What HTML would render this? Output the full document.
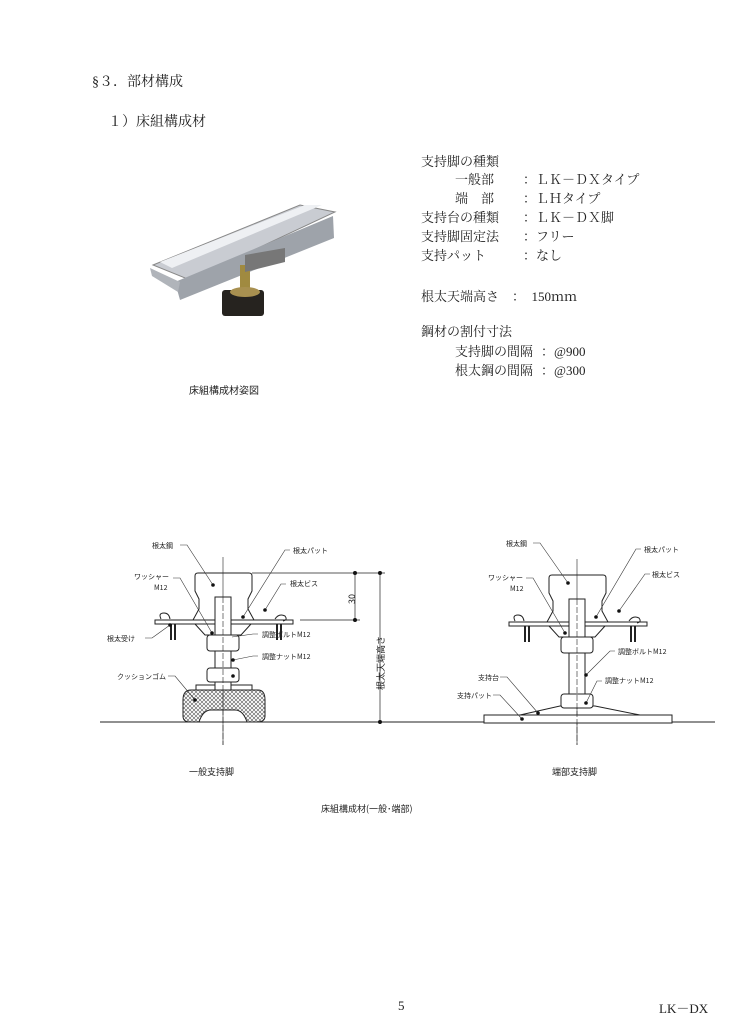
<!DOCTYPE html>
<html><head><meta charset="utf-8"><style>
body{margin:0;background:#fff;}
.p{position:relative;width:738px;height:1024px;font-family:"Liberation Serif","Noto Serif CJK SC","Noto Sans CJK JP",serif;color:#222;}
.t{position:absolute;white-space:nowrap;font-size:13px;}
svg{position:absolute;left:0;top:0;}
</style></head><body><div class="p">
<div class="t" style="left:92px;top:71px;font-size:14px">§３．部材構成</div>
<div class="t" style="left:108px;top:111px;font-size:14px">１）床組構成材</div>

<div class="t" style="left:421px;top:151px">支持脚の種類</div>
<div class="t" style="left:455px;top:169px">一般部</div><div class="t" style="left:523px;top:169px">：ＬＫ－ＤＸタイプ</div>
<div class="t" style="left:455px;top:188px">端　部</div><div class="t" style="left:523px;top:188px">：ＬＨタイプ</div>
<div class="t" style="left:421px;top:207px">支持台の種類</div><div class="t" style="left:523px;top:207px">：ＬＫ－ＤＸ脚</div>
<div class="t" style="left:421px;top:226px">支持脚固定法</div><div class="t" style="left:523px;top:226px">：フリー</div>
<div class="t" style="left:421px;top:245px">支持パット</div><div class="t" style="left:523px;top:245px">：なし</div>
<div class="t" style="left:421px;top:286px">根太天端高さ　：　150ｍｍ</div>
<div class="t" style="left:421px;top:321px">鋼材の割付寸法</div>
<div class="t" style="left:455px;top:341px">支持脚の間隔</div><div class="t" style="left:541px;top:341px">：@900</div>
<div class="t" style="left:455px;top:360px">根太鋼の間隔</div><div class="t" style="left:541px;top:360px">：@300</div>
<div class="t" style="left:189px;top:382px;font-size:10px;font-family:'Noto Sans CJK JP',sans-serif">床組構成材姿図</div>

<svg width="738" height="1024" viewBox="0 0 738 1024">
<defs>
<pattern id="x" width="4" height="4" patternUnits="userSpaceOnUse"><path d="M0 0L4 4M4 0L0 4" stroke="#555" stroke-width="0.6"/></pattern>
<g id="leg" fill="none" stroke="#222" stroke-width="1">
<path d="M-30,47 L-24,36 -24,26 -28,18 -28,3 Q-28,0 -25,0 L26,0 Q29,0 29,3 L29,18 25,26 25,36 31,47"/>
<rect x="-68" y="47" width="138" height="4" fill="#fff"/>
<path d="M-62,46 q-3,-6 3,-6 q5,0 6,6 M52,46 q4,-6 10,-3 q3,4 -2,5"/>
<path d="M-52,51 v16 M-48,51 v16 M54,51 v16 M58,51 v16" stroke-width="2"/>
<path d="M-28,51 L-18,62 18,62 28,51"/>
</g>
<g id="nuts" fill="#fff" stroke="#222">
<rect x="-16" y="62" width="32" height="16" rx="3"/>
</g>
</defs>
<!-- photo -->
<polygon points="153,265 300,205 335,212 190,280" fill="#c9ccd2" stroke="#888"/>
<polygon points="160,262 305,205 322,205 172,268" fill="#eef0f3"/>
<polygon points="175,282 333,216 334,238 180,300" fill="#9ea3aa"/>
<polygon points="150,268 180,282 178,292 152,276" fill="#b0b4ba"/>
<rect x="240" y="265" width="10" height="30" fill="#a08a40"/>
<polygon points="245,255 285,248 285,262 245,272" fill="#777"/>
<rect x="222" y="290" width="42" height="26" rx="3" fill="#26231f"/>
<ellipse cx="245" cy="292" rx="15" ry="5" fill="#a89050"/>
<line x1="100" y1="722" x2="715" y2="722" stroke="#222"/>
<!-- left leg -->
<line x1="223" y1="557" x2="223" y2="745" stroke="#222" stroke-width="0.6"/>
<use href="#leg" x="223" y="573"/>
<path d="M183,700 q0,-10 8,-10 L258,690 q7,0 7,10 L265,716 q0,6 -8,6 L247,722 q-4,-12 -12,-12 L211,710 q-8,0 -12,12 L190,722 q-7,0 -7,-6 Z" fill="url(#x)" stroke="#222"/>
<rect x="196" y="685" width="56" height="5" fill="#fff" stroke="#222"/>
<rect x="215" y="597" width="16" height="93" fill="#fff" stroke="#222"/>
<rect x="207" y="635" width="32" height="16" rx="3" fill="#fff" stroke="#222"/>
<rect x="207" y="668" width="32" height="14" rx="3" fill="#fff" stroke="#222"/>
<line x1="223" y1="597" x2="223" y2="745" stroke="#222" stroke-width="0.6" stroke-dasharray="6,2"/>
<!-- right leg -->
<line x1="577" y1="559" x2="577" y2="745" stroke="#222" stroke-width="0.6"/>
<use href="#leg" x="577" y="575"/>
<rect x="484" y="715" width="188" height="8" fill="#fff" stroke="#222"/>
<path d="M520,715 L560,706 595,706 640,715" fill="none" stroke="#222"/>
<rect x="569" y="599" width="16" height="107" fill="#fff" stroke="#222"/>
<rect x="561" y="637" width="32" height="16" rx="3" fill="#fff" stroke="#222"/>
<rect x="561" y="694" width="32" height="14" rx="3" fill="#fff" stroke="#222"/>
<line x1="577" y1="599" x2="577" y2="745" stroke="#222" stroke-width="0.6" stroke-dasharray="6,2"/>
<!-- dims -->
<g stroke="#222" stroke-width="0.7">
<line x1="252" y1="573" x2="385" y2="573"/><line x1="300" y1="620" x2="360" y2="620"/>
<line x1="355" y1="573" x2="355" y2="620"/><line x1="380" y1="573" x2="380" y2="722"/>
</g>
<g fill="#111"><circle cx="355" cy="573" r="2"/><circle cx="355" cy="620" r="2"/><circle cx="380" cy="573" r="2"/><circle cx="380" cy="722" r="2"/></g>
<!-- leaders -->
<g fill="none" stroke="#333" stroke-width="0.6">
<path d="M180,545 L187,545 L213,585"/><path d="M290,550 L285,550 L243,617"/>
<path d="M173,578 L180,578 L212,633"/><path d="M286,584 L281,584 L265,610"/>
<path d="M145,638 L152,638 L170,625"/><path d="M258,634 L253,634 L232,637"/>
<path d="M258,656 L253,656 L233,660"/><path d="M168,676 L175,676 L195,700"/>
<path d="M533,543 L540,543 L568,583"/><path d="M641,549 L636,549 L596,617"/>
<path d="M526,578 L533,578 L565,633"/><path d="M650,574 L645,574 L619,611"/>
<path d="M615,651 L610,651 L586,675"/><path d="M602,681 L597,681 L586,703"/>
<path d="M500,677 L507,677 L538,713"/><path d="M493,695 L500,695 L522,719"/>
</g>
<g fill="#111">
<circle cx="213" cy="585" r="1.8"/><circle cx="243" cy="617" r="1.8"/><circle cx="212" cy="633" r="1.8"/><circle cx="265" cy="610" r="1.8"/><circle cx="170" cy="625" r="1.8"/><circle cx="233" cy="660" r="1.8"/><circle cx="195" cy="700" r="1.8"/><circle cx="233" cy="676" r="1.8"/>
<circle cx="568" cy="583" r="1.8"/><circle cx="596" cy="617" r="1.8"/><circle cx="565" cy="633" r="1.8"/><circle cx="619" cy="611" r="1.8"/><circle cx="586" cy="675" r="1.8"/><circle cx="586" cy="703" r="1.8"/><circle cx="538" cy="713" r="1.8"/><circle cx="522" cy="719" r="1.8"/>
</g>
<g font-family="Noto Sans CJK JP,sans-serif" font-size="7" fill="#222">
<text x="152" y="548">根太鋼</text><text x="293" y="553">根太パット</text>
<text x="134" y="579">ワッシャー</text><text x="154" y="590">M12</text><text x="290" y="586">根太ビス</text>
<text x="107" y="641">根太受け</text><text x="262" y="637">調整ボルトM12</text><text x="262" y="659">調整ナットM12</text>
<text x="117" y="679">クッションゴム</text>
<text x="506" y="546">根太鋼</text><text x="644" y="552">根太パット</text>
<text x="488" y="580">ワッシャー</text><text x="510" y="591">M12</text><text x="652" y="577">根太ビス</text>
<text x="618" y="654">調整ボルトM12</text><text x="605" y="683">調整ナットM12</text>
<text x="478" y="680">支持台</text><text x="457" y="698">支持パット</text>
<text x="346" y="605" transform="rotate(-90 350 600)" font-size="9">30</text>
<text x="384" y="690" transform="rotate(-90 384 690)" font-size="9">根太天端高さ</text>
<text x="189" y="775" font-size="9">一般支持脚</text><text x="552" y="775" font-size="9">端部支持脚</text>
<text x="321" y="812" font-size="9">床組構成材(一般･端部)</text>
</g>
</svg>
<div class="t" style="left:398px;top:998px">5</div>
<div class="t" style="left:659px;top:998px">LK－DX</div>
</div></body></html>
